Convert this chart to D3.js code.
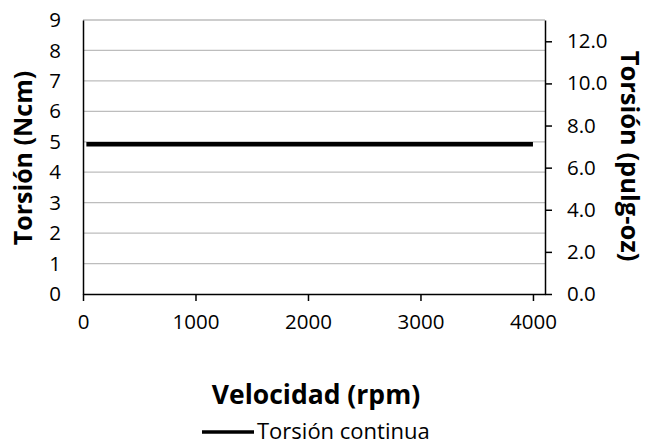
<!DOCTYPE html>
<html>
<head>
<meta charset="utf-8">
<script src="https://cdn.jsdelivr.net/npm/d3@7"></script>
<style>
  body { margin: 0; background: #fff; }
  text { font-family: "Open Sans", sans-serif; fill: #000; }
</style>
</head>
<body>
<div id="chart"></div>
<script>
// data
var speed = [30, 4000];            // rpm
var torque = [4.92, 4.92];         // Ncm
var leftTicks = [0, 1, 2, 3, 4, 5, 6, 7, 8, 9];
var rightTicks = [0, 2, 4, 6, 8, 10, 12];
var xTicks = [0, 1000, 2000, 3000, 4000];
var seriesName = "Torsión continua";

function init() {
    var w = 650;
    var h = 446;
    var left = 83, right = 545, top = 20, bottom = 294;

    var xScale = d3.scaleLinear().domain([0, 4107]).range([left, right]);
    var yScale = d3.scaleLinear().domain([0, 9]).range([bottom, top]);
    var y2Scale = d3.scaleLinear().domain([0, 9 * 1.4457]).range([bottom, top]);

    var svg = d3.select("#chart")
        .append("svg")
        .attr("width", w)
        .attr("height", h);

    // gridlines
    svg.selectAll("line.grid")
        .data(leftTicks.slice(1))
        .enter()
        .append("line")
        .attr("class", "grid")
        .attr("x1", left).attr("x2", right)
        .attr("y1", function(d) { return yScale(d); })
        .attr("y2", function(d) { return yScale(d); })
        .style("stroke", "#bdbdbd")
        .style("stroke-width", 1.3);

    // left axis (no ticks)
    var yAxis = svg.append("g")
        .attr("transform", "translate(" + left + ",0)")
        .call(d3.axisLeft(yScale).tickValues(leftTicks).tickSize(0).tickPadding(22).tickFormat(d3.format("d")));
    yAxis.select(".domain").style("stroke", "#000").style("stroke-width", 1.5);

    // right axis
    var y2Axis = svg.append("g")
        .attr("transform", "translate(" + right + ",0)")
        .call(d3.axisRight(y2Scale).tickValues(rightTicks).tickSize(7).tickSizeOuter(0).tickPadding(15).tickFormat(d3.format(".1f")));
    y2Axis.selectAll("line, .domain").style("stroke", "#000").style("stroke-width", 1.5);

    // x axis
    var xAxis = svg.append("g")
        .attr("transform", "translate(0," + bottom + ")")
        .call(d3.axisBottom(xScale).tickValues(xTicks).tickSize(7).tickSizeOuter(0).tickPadding(13).tickFormat(d3.format("d")));
    xAxis.selectAll("line, .domain").style("stroke", "#000").style("stroke-width", 1.5);

    svg.selectAll(".tick text")
        .style("font-family", "Open Sans, sans-serif")
        .style("font-size", "20.5px")
        .style("fill", "#000");

    // series
    var line = d3.line()
        .x(function(d, i) { return xScale(speed[i]); })
        .y(function(d) { return yScale(d); });

    svg.append("path")
        .datum(torque)
        .attr("d", line)
        .style("fill", "none")
        .style("stroke", "#000")
        .style("stroke-width", 4.5);

    // axis titles
    svg.append("text")
        .attr("x", (left + right) / 2 + 2)
        .attr("y", 404)
        .attr("text-anchor", "middle")
        .style("font-size", "26.5px")
        .style("font-weight", "bold")
        .text("Velocidad (rpm)");

    svg.append("text")
        .attr("transform", "translate(32,158) rotate(-90)")
        .attr("text-anchor", "middle")
        .style("font-size", "25px")
        .style("font-weight", "bold")
        .text("Torsión (Ncm)");

    svg.append("text")
        .attr("transform", "translate(621,156) rotate(90)")
        .attr("text-anchor", "middle")
        .style("font-size", "25.5px")
        .style("font-weight", "bold")
        .text("Torsión (pulg-oz)");

    // legend
    svg.append("line")
        .attr("x1", 202).attr("x2", 254)
        .attr("y1", 432).attr("y2", 432)
        .style("stroke", "#000")
        .style("stroke-width", 3.5);

    svg.append("text")
        .attr("x", 257)
        .attr("y", 439)
        .style("font-size", "22px")
        .text(seriesName);
}

window.onload = init;
</script>
</body>
</html>
